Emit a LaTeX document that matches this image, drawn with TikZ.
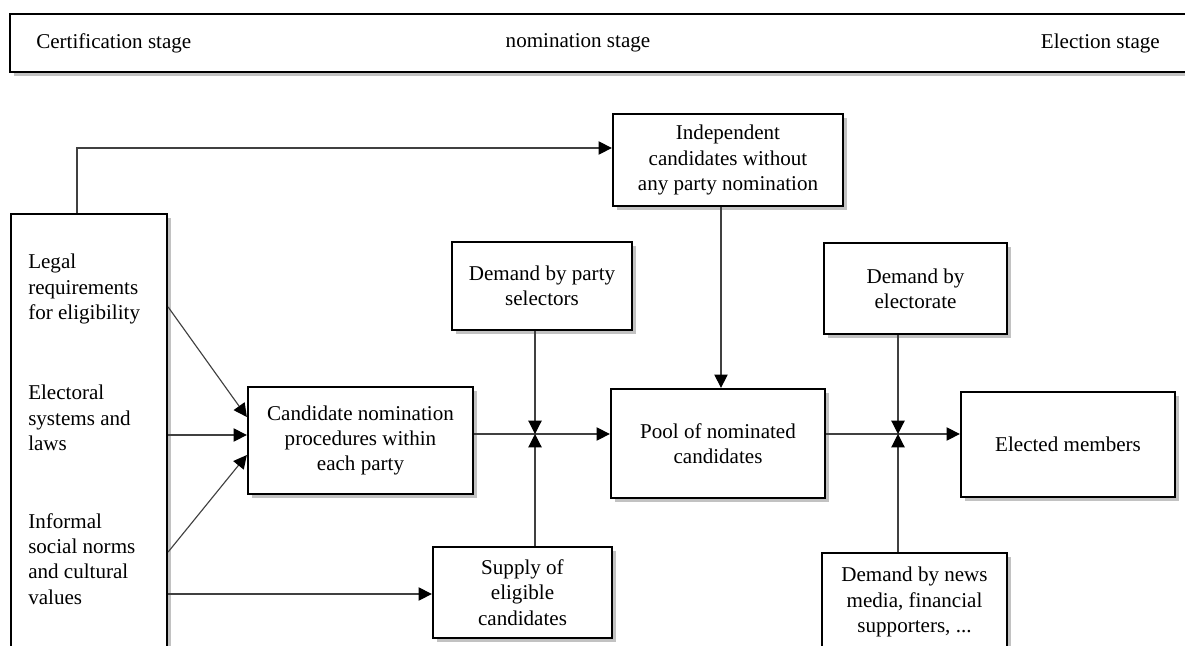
\documentclass[tikz,border=0pt]{standalone}
\usepackage{fontspec}
\setmainfont{Liberation Serif}
\usetikzlibrary{arrows.meta,shadows,calc}
\begin{document}
\begin{tikzpicture}[x=0.75pt,y=-0.75pt,
  font=\fontsize{15.8pt}{19pt}\selectfont,
  bx/.style 2 args={draw=black, line width=1.7pt, fill=white,
    drop shadow={shadow xshift=3pt, shadow yshift=-3pt, opacity=0.4, fill=black!60},
    align=center, inner sep=0pt,
    minimum width={#1*0.75pt}, minimum height={#2*0.75pt}},
  ln/.style={draw=black!75, line width=0.85pt},
  arr/.style={ln, -{Triangle[length=10pt,width=10pt,color=black]}},
  lbl/.style={inner sep=0pt, anchor=west, align=left}
]
\useasboundingbox (0,0) rectangle (1185,646);

% banner
\node[bx={1190}{58}] (banner) at (605,43) {};
\node[lbl] (t1) at (36,43) {Certification stage};
\node[inner sep=0pt] (t2) at (578,43) {nomination stage};
\node[inner sep=0pt, anchor=east] (t3) at (1160,43) {Election stage};

% left box
\node[bx={156}{456}] (left) at (89,442) {};
\node[lbl] (l1) at (28,289) {Legal\\requirements\\for eligibility};
\node[lbl] (l2) at (28,418) {Electoral\\systems and\\laws};
\node[lbl] (l3) at (28,559) {Informal\\social norms\\and cultural\\values};

% boxes
\node[bx={230}{92}]  (indep) at (728,160)   {Independent\\candidates without\\any party nomination};
\node[bx={180}{88}]  (party) at (542,286)   {Demand by party\\selectors};
\node[bx={225}{107}] (cand)  at (360.5,440.5) {Candidate nomination\\procedures within\\each party};
\node[bx={214}{109}] (pool)  at (718,443.5) {Pool of nominated\\candidates};
\node[bx={183}{91}]  (edem)  at (915.5,288.5) {Demand by\\electorate};
\node[bx={214}{105}] (elect) at (1068,444.5) {Elected members};
\node[bx={179}{91}]  (supply) at (522.5,592.5) {Supply of\\eligible\\candidates};
\node[bx={185}{98}]  (news)  at (914.5,602) {Demand by news\\media, financial\\supporters, ...};

% junctions
\coordinate (j1) at (535,434);
\coordinate (j2) at (898,434);
\coordinate (bend) at (77,148);

% connectors
\draw[arr] (bend |- left.north) -- (bend) -- (bend -| indep.west);
\draw[arr] (left.east |- 0,307) -- (cand.west |- 0,417);
\draw[arr] (left.east |- 0,435) -- (cand.west |- 0,435);
\draw[arr] (left.east |- 0,552) -- (cand.west |- 0,455);
\draw[arr] (left.east |- 0,594) -- (supply.west |- 0,594);

\draw[arr] (cand.east |- j1) -- (pool.west |- j1);
\draw[arr] (j1 |- party.south) -- (j1);
\draw[arr] (j1 |- supply.north) -- (j1);

\draw[arr] (721,206 |- indep.south) -- (721,206 |- pool.north);

\draw[arr] (pool.east |- j2) -- (elect.west |- j2);
\draw[arr] (j2 |- edem.south) -- (j2);
\draw[arr] (j2 |- news.north) -- (j2);
\end{tikzpicture}
\end{document}
